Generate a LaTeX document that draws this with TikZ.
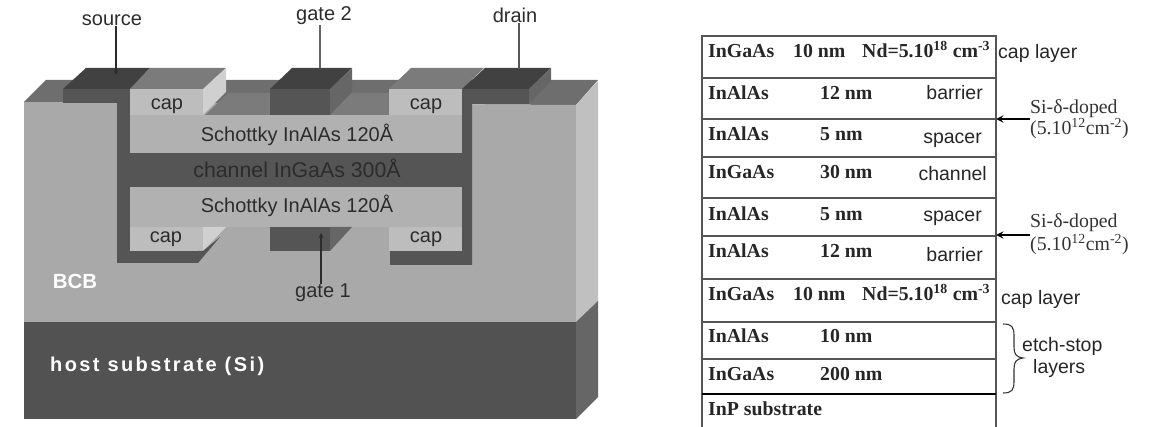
\documentclass[tikz,border=0pt]{standalone}
\usepackage{fontspec}
\setmainfont{Liberation Serif}
\setsansfont{Liberation Sans}
\newfontfamily\hostfont[LetterSpace=12]{Liberation Sans Bold}
\definecolor{bcbgray}{HTML}{A9A9A9}
\definecolor{schottkygray}{HTML}{B1B1B1}
\definecolor{capgray}{HTML}{BDBDBD}
\definecolor{lightgray}{HTML}{D0D0D0}
\definecolor{sidegray}{HTML}{C0C0C0}
\definecolor{topgray}{HTML}{6E6E6E}
\definecolor{midgray}{HTML}{7B7B7B}
\definecolor{metalgray}{HTML}{555555}
\definecolor{darkgray}{HTML}{414141}
\definecolor{edgegray}{HTML}{666666}
\definecolor{subgray}{HTML}{525252}
\definecolor{inkgray}{HTML}{2C2C2C}
\definecolor{rulegray}{HTML}{555555}
\tikzset{
	labeltext/.style={font=\sffamily\fontsize{20}{20}\selectfont,text=inkgray,inner sep=0pt,anchor=base},
	rowname/.style={font=\bfseries\fontsize{19.8}{20}\selectfont,text=black!85,inner sep=0pt,anchor=base west},
	rownote/.style={font=\sffamily\fontsize{19.5}{20}\selectfont,text=black!85,inner sep=0pt},
	dopetext/.style={font=\fontsize{19.8}{20}\selectfont,text=black!80,inner sep=0pt,anchor=base west},
	rowline/.style={color=rulegray,line width=1.1pt},
}
\begin{document}
\begin{tikzpicture}[x=1pt,y=-1pt,>=stealth]
	\useasboundingbox (0,0) rectangle (1154,427);
	% device body
	\fill[topgray] (24,102)--(46,80)--(598,80)--(576,105)--cycle;
	\fill[bcbgray] (24,102)--(576,105)--(576,322)--(24,322)--cycle;
	\fill[sidegray] (576,105)--(598,81)--(598,301)--(576,322)--cycle;
	\fill[subgray] (24,322) rectangle (576,419);
	\fill[edgegray] (576,322)--(598,301)--(598,397)--(576,419)--cycle;
	\fill[midgray] (205,115)--(228,93)--(411,93)--(389,115)--cycle;
	% layers
	\fill[metalgray] (117,102) rectangle (130,263) (117,251) rectangle (198,263);
	\fill[metalgray] (462,89) rectangle (472,265) (390,251) rectangle (472,265);
	\fill[schottkygray] (130,115) rectangle (462,153);
	\fill[metalgray] (130,153) rectangle (462,187);
	\fill[schottkygray] (130,187) rectangle (462,227);
	% upper contacts
	\fill[metalgray] (63,89) rectangle (130,103);
	\fill[darkgray] (63,89)--(86,68)--(150,68)--(130,89)--cycle;
	\fill[midgray] (130,89)--(150,68)--(226,68)--(203,89)--cycle;
	\fill[capgray] (130,89) rectangle (203,115);
	\fill[lightgray] (203,89)--(226,68)--(226,92)--(203,115)--cycle;
	\fill[darkgray] (270,89)--(292,68)--(352,68)--(330,89)--cycle;
	\fill[metalgray] (270,89) rectangle (330,115);
	\fill[edgegray] (330,89)--(352,68)--(352,92)--(330,115)--cycle;
	\fill[midgray] (389,89)--(411,68)--(484,68)--(462,89)--cycle;
	\fill[capgray] (389,89) rectangle (462,115);
	\fill[metalgray] (462,89) rectangle (529,104);
	\fill[darkgray] (462,89)--(485,68)--(551,68)--(529,89)--cycle;
	\fill[edgegray] (529,89)--(551,68)--(551,81)--(529,104)--cycle;
	% lower contacts
	\fill[capgray] (130,227) rectangle (203,251);
	\fill[lightgray] (203,227)--(226,227)--(203,251)--cycle;
	\fill[metalgray] (198,251)--(203,251)--(220,237)--(198,263)--cycle;
	\fill[metalgray] (270,227) rectangle (330,251);
	\fill[edgegray] (330,227)--(352,227)--(330,251)--cycle;
	\fill[capgray] (389,227) rectangle (462,251);
	% device labels
	\node[labeltext] (source) at (112,26) {source};
	\node[labeltext] (gatetwo) at (324,21) {gate 2};
	\node[labeltext] (drain) at (515,23) {drain};
	\node[labeltext] (gateone) at (323,298) {gate 1};
	\coordinate (sourcepad) at (116,75);
	\coordinate (gatetwopad) at (320,68);
	\coordinate (drainpad) at (519,69);
	\coordinate (gateonepad) at (321,233);
	\draw[->,color=inkgray,line width=1.2pt] (source.south -| sourcepad)--(sourcepad);
	\draw[color=edgegray,line width=1.2pt] (gatetwo.south -| gatetwopad)--(gatetwopad);
	\draw[color=inkgray!80,line width=1.2pt] (drain.south -| drainpad)--(drainpad);
	\draw[->,color=inkgray,line width=1.2pt] (gateone.north -| gateonepad)--(gateonepad);
	\node[labeltext] (captl) at (167,110) {cap};
	\node[labeltext] (captr) at (426,110) {cap};
	\node[labeltext] (capbl) at (166,243) {cap};
	\node[labeltext] (capbr) at (426,243) {cap};
	\node[labeltext] (upper) at (297,142) {Schottky InAlAs 120Å};
	\node[labeltext,font=\sffamily\fontsize{21.3}{20}\selectfont] (channel) at (297,178) {channel InGaAs 300Å};
	\node[labeltext] (lower) at (297,213) {Schottky InAlAs 120Å};
	\node[font=\sffamily\bfseries\fontsize{20.5}{20}\selectfont,text=white,inner sep=0pt,anchor=base] (bcb) at (75,289) {BCB};
	\node[font=\hostfont\fontsize{20}{20}\selectfont,text=white,inner sep=0pt,anchor=base west] (host) at (50,372) {host substrate (Si)};
	% layer table
	\draw[rowline] (702,427)--(702,36)--(996,36)--(996,427);
	\foreach \rowy in {78,119,157,198,236,279,322,359}
		\draw[rowline] (702,\rowy)--(996,\rowy);
	\draw[color=black,line width=1.8pt] (702,394)--(996,394);
	\node[rowname] (capa) at (708,58) {InGaAs};
	\node[rowname] (capb) at (793,58) {10 nm};
	\node[rowname] (capc) at (862,58) {Nd=5.10\textsuperscript{18} cm\textsuperscript{-3}};
	\node[rowname] (bara) at (708,100) {InAlAs};
	\node[rowname] (barb) at (820,100) {12 nm};
	\node[rowname] (spca) at (708,141) {InAlAs};
	\node[rowname] (spcb) at (820,141) {5 nm};
	\node[rowname] (chna) at (708,179) {InGaAs};
	\node[rowname] (chnb) at (820,179) {30 nm};
	\node[rowname] (spda) at (708,221) {InAlAs};
	\node[rowname] (spdb) at (820,221) {5 nm};
	\node[rowname] (bbra) at (708,258) {InAlAs};
	\node[rowname] (bbrb) at (820,258) {12 nm};
	\node[rowname] (cpba) at (708,301) {InGaAs};
	\node[rowname] (cpbb) at (793,301) {10 nm};
	\node[rowname] (cpbc) at (862,301) {Nd=5.10\textsuperscript{18} cm\textsuperscript{-3}};
	\node[rowname] (etca) at (708,343) {InAlAs};
	\node[rowname] (etcb) at (820,343) {10 nm};
	\node[rowname] (etda) at (708,381) {InGaAs};
	\node[rowname] (etdb) at (820,381) {200 nm};
	\node[rowname] (inp) at (708,416) {InP substrate};
	\node[rownote,anchor=base east] (barnote) at (983,100) {barrier};
	\node[rownote,anchor=base east] (spcnote) at (982,144) {spacer};
	\node[rownote,anchor=base east] (chnnote) at (987,181) {channel};
	\node[rownote,anchor=base east] (spdnote) at (982,222) {spacer};
	\node[rownote,anchor=base east] (bbrnote) at (983,262) {barrier};
	\node[rownote,anchor=base west] (capnote) at (998,59) {cap layer};
	\node[rownote,anchor=base west] (cpbnote) at (1001,305) {cap layer};
	\node[rownote,anchor=base west] (etcnote) at (1022,352) {etch-stop};
	\node[rownote,anchor=base west] (etdnote) at (1033,374) {layers};
	\node[dopetext] (dopea) at (1030,114) {Si-δ-doped};
	\node[dopetext] (dopeb) at (1030,135) {(5.10\textsuperscript{12}cm\textsuperscript{-2})};
	\node[dopetext] (dopec) at (1030,228) {Si-δ-doped};
	\node[dopetext] (doped) at (1030,251) {(5.10\textsuperscript{12}cm\textsuperscript{-2})};
	\coordinate (dopeone) at (996,119);
	\coordinate (dopetwo) at (996,235);
	\draw[->,line width=2.2pt] (dopea.south west |- dopeone)--(dopeone);
	\draw[->,line width=2.2pt] (dopec.south west |- dopetwo)--(dopetwo);
	% etch-stop brace
	\draw[color=black!80,line width=1.1pt] (1003,324) .. controls (1012,324) and (1014,327) .. (1014,336)--(1014,347) .. controls (1014,354) and (1016,357) .. (1023,358) .. controls (1016,359) and (1014,362) .. (1014,369)--(1014,381) .. controls (1014,390) and (1012,393) .. (1003,393);
\end{tikzpicture}
\end{document}
